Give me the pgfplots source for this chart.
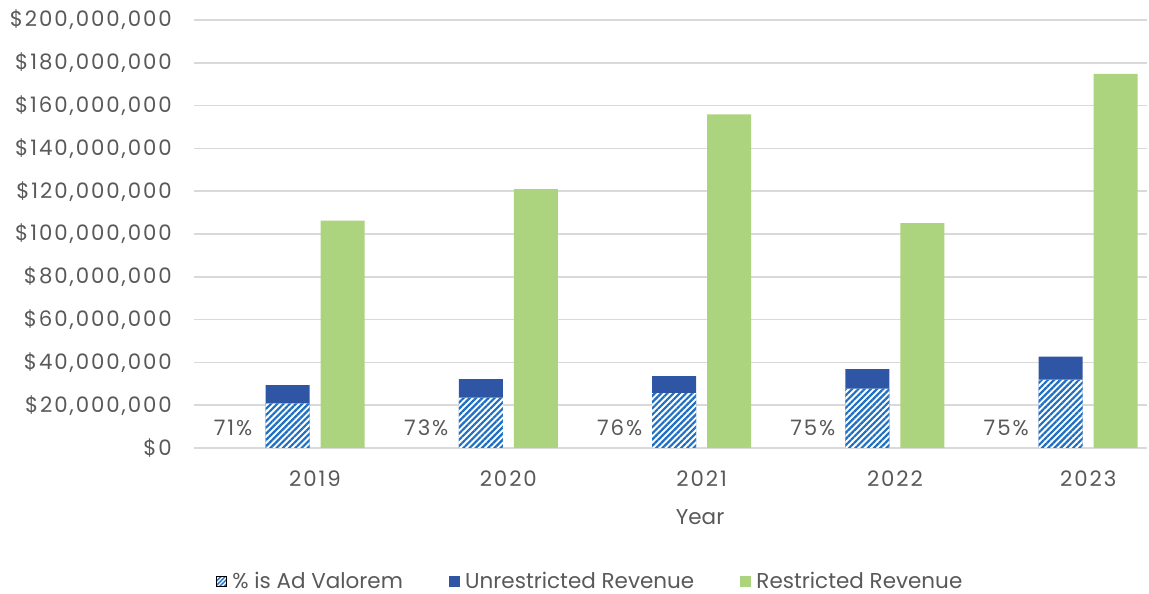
\documentclass[border=0pt]{standalone}
\usepackage{pgfplots}
\pgfplotsset{compat=1.18}
\usepackage{pgfplotstable}
\usetikzlibrary{patterns.meta}
\usepackage{fontspec}
\setmainfont{Poppins}
\newfontfamily\numfont{Poppins}[LetterSpace=9]
\definecolor{txt}{HTML}{595959}
\definecolor{gridc}{HTML}{D9D9D9}
\definecolor{solidblue}{HTML}{2F55A5}
\definecolor{hatchblue}{HTML}{1F6FC3}
\definecolor{restgreen}{HTML}{ACD47E}

\pgfplotstableread{
idx total    adv      rest
0   29400000 20900000 106200000
1   32200000 23500000 121000000
2   33600000 25600000 155900000
3   36900000 27700000 105100000
4   42700000 32000000 174800000
}\revdata

\begin{document}
\begin{tikzpicture}
\useasboundingbox (0,0) rectangle (1149pt,594pt);
\begin{axis}[
  at={(194pt,146pt)}, anchor=south west,
  scale only axis, width=953pt, height=428pt,
  xmin=-0.626, xmax=4.304, ymin=0, ymax=200000000,
  scaled y ticks=false,
  axis x line*=bottom, axis y line*=left,
  x axis line style={draw=gridc, line width=1.6pt, -},
  y axis line style={draw=none},
  major tick length=0pt,
  ymajorgrids, major grid style={draw=gridc, line width=1.6pt},
  xtick={0,1,2,3,4}, xticklabels={2019,2020,2021,2022,2023},
  ytick={0,20000000,40000000,60000000,80000000,100000000,120000000,140000000,160000000,180000000,200000000},
  yticklabels={\$0,{\$20,000,000},{\$40,000,000},{\$60,000,000},{\$80,000,000},{\$100,000,000},{\$120,000,000},{\$140,000,000},{\$160,000,000},{\$180,000,000},{\$200,000,000}},
  tick label style={font=\numfont\fontsize{21.3}{25}\selectfont, text=txt},
  yticklabel style={inner sep=0pt, xshift=-22pt},
  xticklabel style={inner sep=0pt, yshift=-23pt},
  xlabel={Year},
  xlabel style={font=\fontsize{21.5}{25}\selectfont, text=txt, at={(axis description cs:0.531,-0.161)}, anchor=center},
  legend columns=3,
  legend style={at={(0.4155,-0.311)}, anchor=center, draw=none, fill=none,
    font=\fontsize{21.5}{25}\selectfont, text=txt,
    /tikz/every even column/.append style={column sep=44pt}},
  legend cell align=left,
]
\addlegendimage{legend image code/.code={\fill[white] (0pt,-5pt) rectangle (10pt,5pt); \fill[pattern={Lines[angle=45,distance=3pt,line width=1.4pt]}, pattern color=hatchblue] (0pt,-5pt) rectangle (10pt,5pt); \path[draw=none, fill=none] (0pt,0pt) -- (14pt,0pt);}}
\addlegendimage{legend image code/.code={\fill[solidblue] (0pt,-5pt) rectangle (10pt,5pt); \path[draw=none, fill=none] (0pt,0pt) -- (14pt,0pt);}}
\addlegendimage{legend image code/.code={\fill[restgreen] (0pt,-5pt) rectangle (10pt,5pt); \path[draw=none, fill=none] (0pt,0pt) -- (14pt,0pt);}}

\addplot[ybar, bar width=44pt, bar shift=-27.5pt, fill=solidblue, draw=none, forget plot] table[x=idx, y=total]{\revdata};
\addplot[ybar, bar width=44pt, bar shift=-27.5pt, draw=none, fill=white,
  postaction={pattern={Lines[angle=45,distance=4.4pt,line width=2.2pt]}, pattern color=hatchblue}, forget plot] table[x=idx, y=adv]{\revdata};
\addplot[ybar, bar width=44pt, bar shift=27.5pt, fill=restgreen, draw=none, forget plot] table[x=idx, y=rest]{\revdata};

\addplot[draw=none, mark=none, forget plot, nodes near coords, point meta=explicit symbolic,
  nodes near coords align=center,
  nodes near coords style={font=\numfont\fontsize{21.3}{25}\selectfont, text=txt, xshift=-82pt}]
  coordinates {(0,9300000) [71\%] (1,9300000) [73\%] (2,9300000) [76\%] (3,9300000) [75\%] (4,9300000) [75\%]};

\legend{\% is Ad Valorem, Unrestricted Revenue, Restricted Revenue}
\end{axis}
\end{tikzpicture}
\end{document}
